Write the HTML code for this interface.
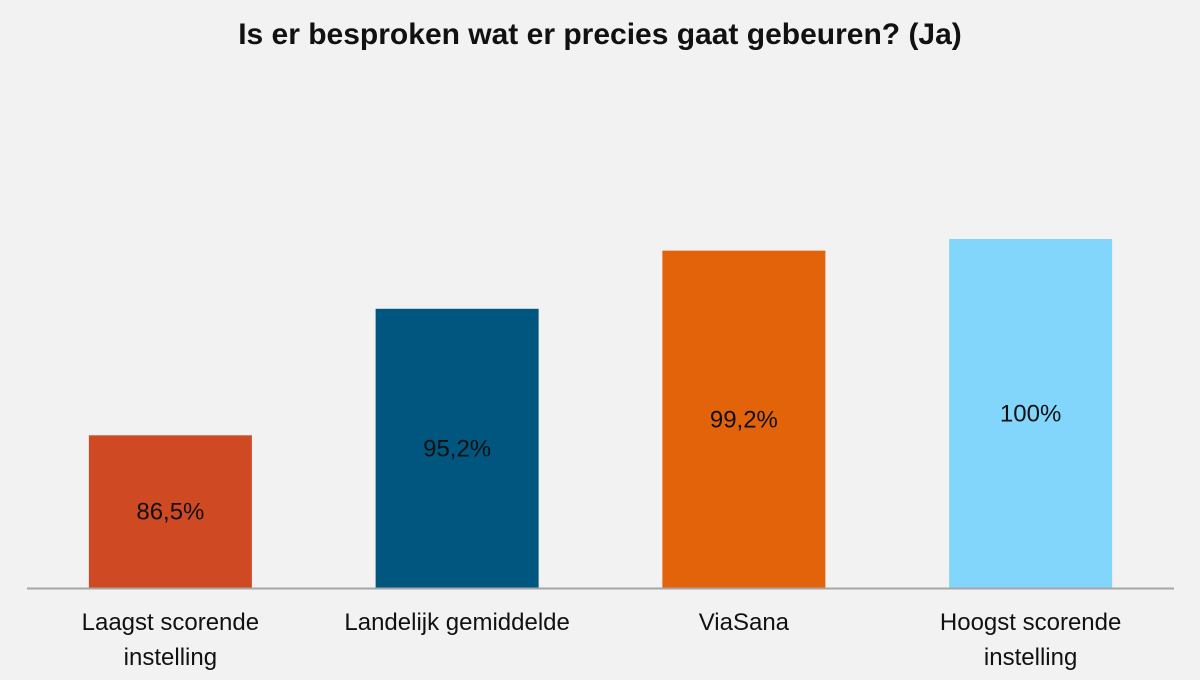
<!DOCTYPE html>
<html><head><meta charset="utf-8">
<style>
html,body{margin:0;padding:0;background:#f2f2f2;}
body{width:1200px;height:675px;overflow:hidden;font-family:"Liberation Sans",sans-serif;}
</style></head>
<body>
<svg width="1200" height="675" xmlns="http://www.w3.org/2000/svg">
<rect width="1200" height="675" fill="#f2f2f2"/>
<text x="600" y="44" text-anchor="middle" font-size="30" font-weight="bold" fill="#111">Is er besproken wat er precies gaat gebeuren? (Ja)</text>
<g id="bars"></g>
<line x1="27" x2="1174" y1="588.5" y2="588.5" stroke="#a6a6a6" stroke-width="2"/>
<g id="labels"></g>
</svg>
<script>
const categories = [["Laagst scorende","instelling"],["Landelijk gemiddelde"],["ViaSana"],["Hoogst scorende","instelling"]];
const values = [86.5, 95.2, 99.2, 100];
const valueLabels = ["86,5%","95,2%","99,2%","100%"];
const colors = ["#cf4a22","#00567f","#e2630a","#82d6fb"];
const textColors = ["#111","#111","#111","#111"];
const yMin = 76, yMax = 100;
const plotTop = 239, plotBottom = 588, plotLeft = 27, plotRight = 1174;
const ns = "http://www.w3.org/2000/svg";
function yScale(v){return plotBottom - (v - yMin)/(yMax - yMin)*(plotBottom - plotTop);}
const band = (plotRight - plotLeft)/categories.length;
function xCenter(i){return plotLeft + band*(i+0.5);}
const barW = 163;
const gb = document.getElementById("bars"), gl = document.getElementById("labels");
values.forEach((v,i)=>{
  const r = document.createElementNS(ns,"rect");
  
  
  const y = yScale(v);
  r.setAttribute("x", xCenter(i)-barW/2); r.setAttribute("width", barW);
  r.setAttribute("y", y); r.setAttribute("height", plotBottom - y);
  r.setAttribute("fill", colors[i]);
  gb.appendChild(r);
  const t = document.createElementNS(ns,"text");
  
  
  t.setAttribute("x", xCenter(i)); t.setAttribute("y", (y+plotBottom)/2 + 8);
  t.setAttribute("text-anchor","middle"); t.setAttribute("font-size","24");
  t.setAttribute("fill", textColors[i]);
  t.textContent = valueLabels[i];
  gb.appendChild(t);
  categories[i].forEach((line,j)=>{
    const c = document.createElementNS(ns,"text");
    
    
    c.setAttribute("x", xCenter(i)); c.setAttribute("y", 630 + j*35);
    c.setAttribute("text-anchor","middle"); c.setAttribute("font-size","24");
    c.setAttribute("fill","#111");
    c.textContent = line;
    gl.appendChild(c);
  });
});
</script>
</body></html>
